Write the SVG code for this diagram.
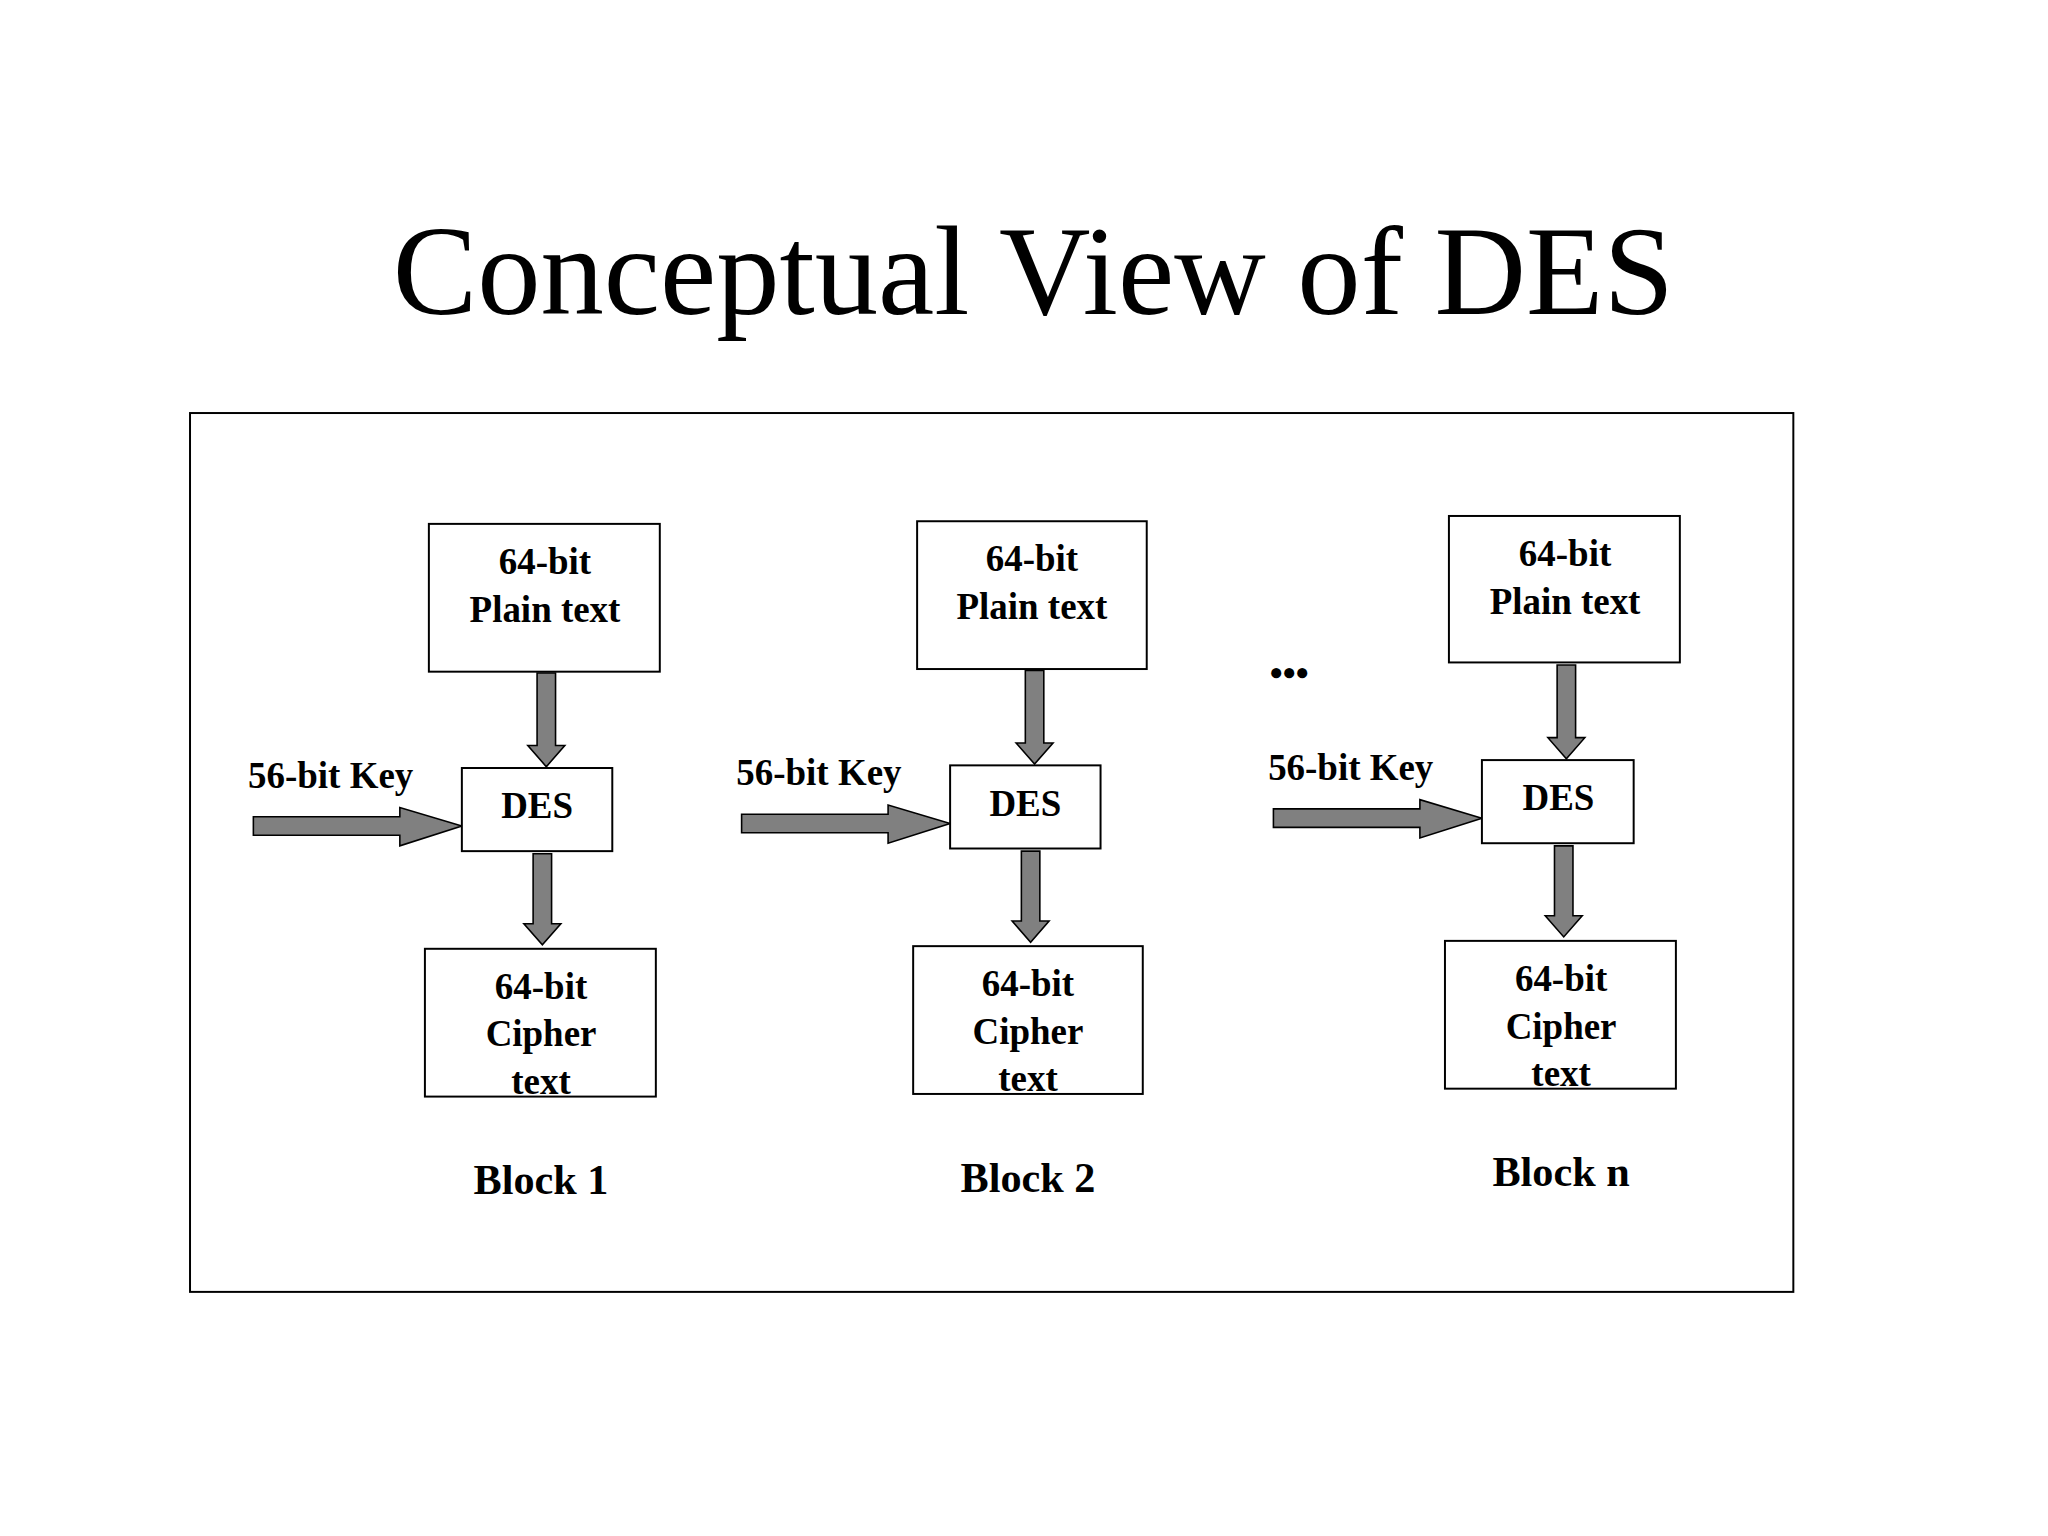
<svg xmlns="http://www.w3.org/2000/svg" width="2048" height="1536" viewBox="0 0 2048 1536">
<style>
.box{fill:#fff;stroke:#000;stroke-width:1.5}
.arr{fill:#808080;stroke:#000;stroke-width:1.2}
.t{font-family:"Liberation Serif",serif;font-weight:bold;font-size:28px;text-anchor:middle;fill:#000}
.k{font-family:"Liberation Serif",serif;font-weight:bold;font-size:28px;fill:#000}
.b{font-family:"Liberation Serif",serif;font-weight:bold;font-size:32px;text-anchor:middle;fill:#000}
</style>
<rect width="2048" height="1536" fill="#fff"/>
<g transform="scale(1.3196)">
<text x="783" y="238" font-family="Liberation Serif,serif" font-size="96" text-anchor="middle">Conceptual View of DES</text>
<rect x="144" y="313" width="1215" height="666" fill="none" stroke="#000" stroke-width="1.5"/>
<g id="connectors">
<path class="arr" d="M407,510 H421 V565 H428 L414,581 L400,565 H407 Z"/>
<path class="arr" d="M404,647 H418 V700 H425 L411,716 L397,700 H404 Z"/>
<path class="arr" d="M192,619 H303 V612 L350,626 L303,641 V633 H192 Z"/>
<path class="arr" d="M777,508 H791 V563 H798 L784,579 L770,563 H777 Z"/>
<path class="arr" d="M774,645 H788 V698 H795 L781,714 L767,698 H774 Z"/>
<path class="arr" d="M562,617 H673 V610 L720,624 L673,639 V631 H562 Z"/>
<path class="arr" d="M1180,504 H1194 V559 H1201 L1187,575 L1173,559 H1180 Z"/>
<path class="arr" d="M1178,641 H1192 V694 H1199 L1185,710 L1171,694 H1178 Z"/>
<path class="arr" d="M965,613 H1076 V606 L1123,620 L1076,635 V627 H965 Z"/>
</g>
<g id="plain1"><rect class="box" x="325" y="397" width="175" height="112"/><text class="t" x="413" y="435">64-bit</text><text class="t" x="413" y="471">Plain text</text></g>
<g id="des1"><rect class="box" x="350" y="582" width="114" height="63"/><text class="t" x="407" y="620">DES</text></g>
<g id="cipher1"><rect class="box" x="322" y="719" width="175" height="112"/><text class="t" x="410" y="757">64-bit</text><text class="t" x="410" y="793">Cipher</text><text class="t" x="410" y="829">text</text></g>
<text class="k" x="188" y="597">56-bit Key</text>
<text class="b" x="410" y="905">Block 1</text>
<g id="plain2"><rect class="box" x="695" y="395" width="174" height="112"/><text class="t" x="782" y="433">64-bit</text><text class="t" x="782" y="469">Plain text</text></g>
<g id="des2"><rect class="box" x="720" y="580" width="114" height="63"/><text class="t" x="777" y="618">DES</text></g>
<g id="cipher2"><rect class="box" x="692" y="717" width="174" height="112"/><text class="t" x="779" y="755">64-bit</text><text class="t" x="779" y="791">Cipher</text><text class="t" x="779" y="827">text</text></g>
<text class="k" x="558" y="595">56-bit Key</text>
<text class="b" x="779" y="903">Block 2</text>
<text class="t" x="977" y="520" font-size="40">•••</text>
<g id="plainn"><rect class="box" x="1098" y="391" width="175" height="111"/><text class="t" x="1186" y="429">64-bit</text><text class="t" x="1186" y="465">Plain text</text></g>
<g id="desn"><rect class="box" x="1123" y="576" width="115" height="63"/><text class="t" x="1181" y="614">DES</text></g>
<g id="ciphern"><rect class="box" x="1095" y="713" width="175" height="112"/><text class="t" x="1183" y="751">64-bit</text><text class="t" x="1183" y="787">Cipher</text><text class="t" x="1183" y="823">text</text></g>
<text class="k" x="961" y="591">56-bit Key</text>
<text class="b" x="1183" y="899">Block n</text>
</g>
</svg>
